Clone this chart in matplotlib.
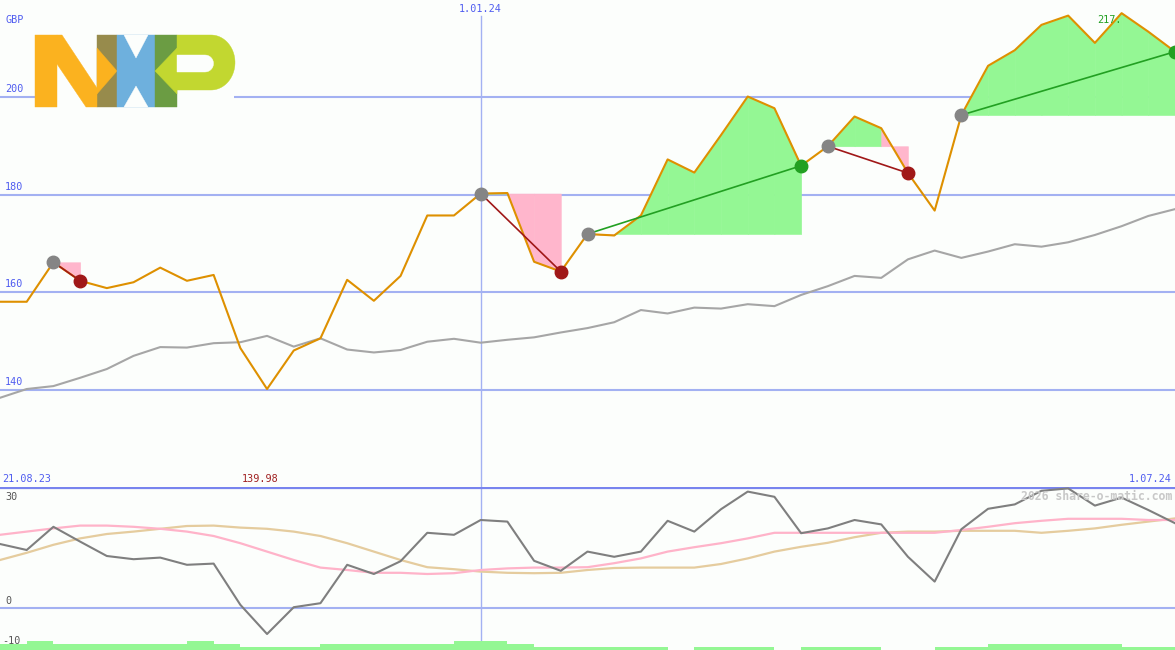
import numpy as np
import matplotlib
matplotlib.use("Agg")
import matplotlib.pyplot as plt
import matplotlib.transforms as mtransforms
from matplotlib.patches import Polygon, Rectangle

W, H = 1175, 650

# weekly closes, 21.08.23 .. 1.07.24
price = [158.0, 158.0, 166.1, 162.3, 160.8, 162.0, 165.0, 162.3, 163.5, 148.5,
         140.1, 148.0, 150.5, 162.5, 158.2, 163.3, 175.7, 175.7, 180.2, 180.3,
         166.2, 164.2, 171.9, 171.6, 175.7, 187.2, 184.5, 192.2, 200.1, 197.7,
         185.9, 189.9, 196.0, 193.6, 184.4, 176.7, 196.3, 206.4, 209.6, 214.8,
         216.7, 211.1, 217.2, 213.4, 209.3]
# moving average (grey)
avg = [138.3, 140.1, 140.7, 142.4, 144.2, 146.9, 148.7, 148.6, 149.5, 149.7,
       151.0, 148.8, 150.5, 148.2, 147.6, 148.1, 149.8, 150.4, 149.6, 150.2,
       150.7, 151.7, 152.6, 153.8, 156.3, 155.6, 156.8, 156.6, 157.5, 157.1,
       159.4, 161.2, 163.3, 162.9, 166.7, 168.5, 167.0, 168.3, 169.8, 169.3,
       170.2, 171.7, 173.5, 175.6, 177.0]
# lower panel
osc = [16.0, 14.5, 20.3, 16.6, 13.0, 12.2, 12.6, 10.8, 11.1, 0.8,
       -6.5, 0.2, 1.2, 10.8, 8.5, 11.7, 18.8, 18.3, 22.0, 21.6,
       11.8, 9.3, 14.1, 12.8, 14.1, 21.8, 19.1, 24.7, 29.1, 27.8,
       18.7, 19.9, 22.0, 20.9, 12.8, 6.6, 19.7, 24.8, 25.9, 29.3,
       29.9, 25.6, 27.6, 24.5, 21.2]
osc_fast = [18.3, 19.1, 19.9, 20.6, 20.6, 20.3, 19.8, 19.1, 18.0, 16.2,
            14.1, 12.0, 10.1, 9.5, 8.8, 8.8, 8.5, 8.7, 9.5, 9.9,
            10.1, 10.1, 10.2, 11.2, 12.4, 14.1, 15.2, 16.2, 17.4, 18.8,
            18.8, 18.8, 18.8, 18.8, 18.8, 18.8, 19.5, 20.3, 21.2, 21.8,
            22.3, 22.3, 22.3, 22.0, 22.0]
osc_slow = [12.0, 13.8, 15.8, 17.4, 18.5, 19.1, 19.8, 20.5, 20.6, 20.1,
            19.8, 19.1, 18.0, 16.2, 14.1, 12.0, 10.2, 9.7, 9.1, 8.8,
            8.7, 8.8, 9.5, 10.0, 10.1, 10.1, 10.1, 11.0, 12.4, 14.1,
            15.3, 16.3, 17.7, 18.8, 19.1, 19.1, 19.3, 19.3, 19.3, 18.8,
            19.3, 19.9, 20.8, 21.6, 22.4]
volume = [2, 3, 2, 2, 2, 2, 2, 3, 2, 1, 1, 1, 2, 2, 2, 2, 2, 3, 3, 2,
          1, 1, 1, 1, 1, 0, 1, 1, 1, 0, 1, 1, 1, 0, 0, 1, 1, 2, 2, 2,
          2, 2, 1, 1]
trades = [(2, 3), (18, 21), (22, 30), (31, 34), (36, 44)]

price_ticks = [140, 160, 180, 200]
osc_ticks = [30, 0, -10]
first_date, mid_date, last_date = "21.08.23", "1.01.24", "1.07.24"
mid_index = 18
low_text, high_text = "139.98", "217."

bg = '#fcfefc'
grid_c = '#a3b1f2'
blue_txt = '#4f5cf0'
win_fill, loss_fill = '#94f794', '#ffb6cc'
mono = 'DejaVu Sans Mono'

x = np.arange(len(price))

fig = plt.figure(figsize=(W / 100, H / 100), dpi=100, facecolor=bg)
ax = fig.add_axes([0, 163 / H, 1, 487 / H])
bx = fig.add_axes([0, 0, 1, 163 / H])
for a in (ax, bx):
    a.set_xlim(0, len(price) - 1)
    a.axis('off')
ax.set_ylim(120, 219.9)
bx.set_ylim(-10.5, 30.25)

# upper panel
for t in price_ticks:
    ax.axhline(t, color=grid_c, lw=1.5, zorder=1)
ax.axvline(mid_index, ymax=1 - 16 / 487, color=grid_c, lw=1, zorder=1)

for entry, leave in trades:
    level = price[entry]
    for i in range(entry, leave):
        c = win_fill if price[i + 1] > level else loss_fill
        ax.fill_between(x[i:i + 2], level, price[i:i + 2], color=c,
                        lw=0.4, edgecolor=c, zorder=2)

ax.plot(x, avg, color='#a6a6a6', lw=1.5, zorder=3)
ax.plot(x, price, color='#de9000', lw=1.5, zorder=4)

for entry, leave in trades:
    won = price[leave] > price[entry]
    lc = '#22a022' if won else '#a01818'
    ax.plot([entry, leave], [price[entry], price[leave]], color=lc, lw=1.2, zorder=5)
    ax.plot(entry, price[entry], 'o', ms=9, color='#858585', zorder=6)
    ax.plot(leave, price[leave], 'o', ms=9, color=lc, zorder=6)

ylab = mtransforms.blended_transform_factory(ax.transAxes, ax.transData)
for t in price_ticks:
    ax.text(5 / W, t + 0.6, str(t), transform=ylab, color=blue_txt,
            fontsize=7.3, family=mono, va='bottom', ha='left', zorder=7)
fig.text(5 / W, 1 - 20 / H, "GBP", color=blue_txt, fontsize=7.3, family=mono,
         va='center', ha='left')

xlab = mtransforms.blended_transform_factory(ax.transData, ax.transAxes)
ax.text(mid_index, 1 - 9 / 487, mid_date, transform=xlab, color=blue_txt,
        fontsize=7.3, family=mono, ha='center', va='center')
ax.text(2 / 26.7, 8 / 487, first_date, transform=xlab, color=blue_txt,
        fontsize=7.3, family=mono, ha='left', va='center')
ax.text(len(price) - 1 - 3 / 26.7, 8 / 487, last_date, transform=xlab,
        color=blue_txt, fontsize=7.3, family=mono, ha='right', va='center')
ax.text(int(np.argmin(price)) - 0.27, 8 / 487, low_text, transform=xlab,
        color='#a02020', fontsize=7.3, family=mono, ha='center', va='center')
ax.text(int(np.argmax(price)) - 0.9, 215.8, high_text, color='#22a022',
        fontsize=7.3, family=mono, ha='left', va='center', zorder=7)

# lower panel
bx.axhline(osc_ticks[0], color='#7884ee', lw=1.6, zorder=3)
bx.axhline(0, color=grid_c, lw=1.5, zorder=1)
bx.axvline(mid_index, color=grid_c, lw=1, zorder=1)
bx.bar(x[:-1], [v * 0.75 for v in volume], width=1, bottom=-10.5,
       align='edge', color=win_fill, zorder=1)
bx.plot(x, osc_slow, color='#e5cc9e', lw=1.6, zorder=2)
bx.plot(x, osc_fast, color='#ffb3c9', lw=1.6, zorder=2)
bx.plot(x, osc, color='#7f7f7f', lw=1.5, zorder=3)

oylab = mtransforms.blended_transform_factory(bx.transAxes, bx.transData)
bx.text(5 / W, 29.0, str(osc_ticks[0]), transform=oylab, color='#555555',
        fontsize=7.3, family=mono, va='top', ha='left')
bx.text(5 / W, 0.5, str(osc_ticks[1]), transform=oylab, color='#555555',
        fontsize=7.3, family=mono, va='bottom', ha='left')
bx.text(2 / W, -10 + 0.6, str(osc_ticks[2]), transform=oylab, color='#555555',
        fontsize=7.3, family=mono, va='bottom', ha='left')
fig.text(1172 / W, 1 - 496 / H, "2026 share-o-matic.com", color='#c8c8c8',
         fontsize=8.3, family=mono, weight='bold', ha='right', va='center')

# NXP logo, drawn in pixel coordinates
lg = fig.add_axes([0, 0, 1, 1], zorder=10)
lg.set_xlim(0, W)
lg.set_ylim(H, 0)
lg.axis('off')
lg.patch.set_alpha(0)

def poly(pts, c):
    lg.add_patch(Polygon(pts, closed=True, facecolor=c, edgecolor=c, lw=0.3))

lg.add_patch(Rectangle((35, 35), 199, 72, facecolor=bg, edgecolor='none'))
orange, olive, blue, dgreen, lime = '#fbb21f', '#978b4c', '#6eb0dd', '#6b9c43', '#c2d730'
poly([(97, 35), (117, 35), (117, 107), (97, 107)], olive)
poly([(35, 35), (57, 35), (57, 107), (35, 107)], orange)
poly([(57, 35), (62, 35), (97, 88), (97, 107), (86, 107), (57, 64)], orange)
poly([(97, 48), (117, 71), (97, 94)], orange)
poly([(117, 35), (155, 35), (155, 107), (117, 107)], blue)
poly([(124, 35), (148, 35), (136, 58)], bg)
poly([(124, 107), (148, 107), (136, 86)], bg)
poly([(155, 35), (177, 35), (177, 107), (155, 107)], dgreen)
t = np.linspace(-np.pi / 2, np.pi / 2, 40)
bowl = [(177, 35)] + [(211 + 24 * np.cos(a), 62.5 + 27.5 * np.sin(a)) for a in t] + [(177, 90)]
poly(bowl, lime)
poly([(177, 48), (155, 71), (177, 94)], lime)
th = np.linspace(-np.pi / 2, np.pi / 2, 20)
hole = [(177, 55)] + [(205 + 8.5 * np.cos(a), 63.5 + 8.5 * np.sin(a)) for a in th] + [(177, 72)]
poly(hole, bg)

fig.savefig("out.png", dpi=100, facecolor=bg)
